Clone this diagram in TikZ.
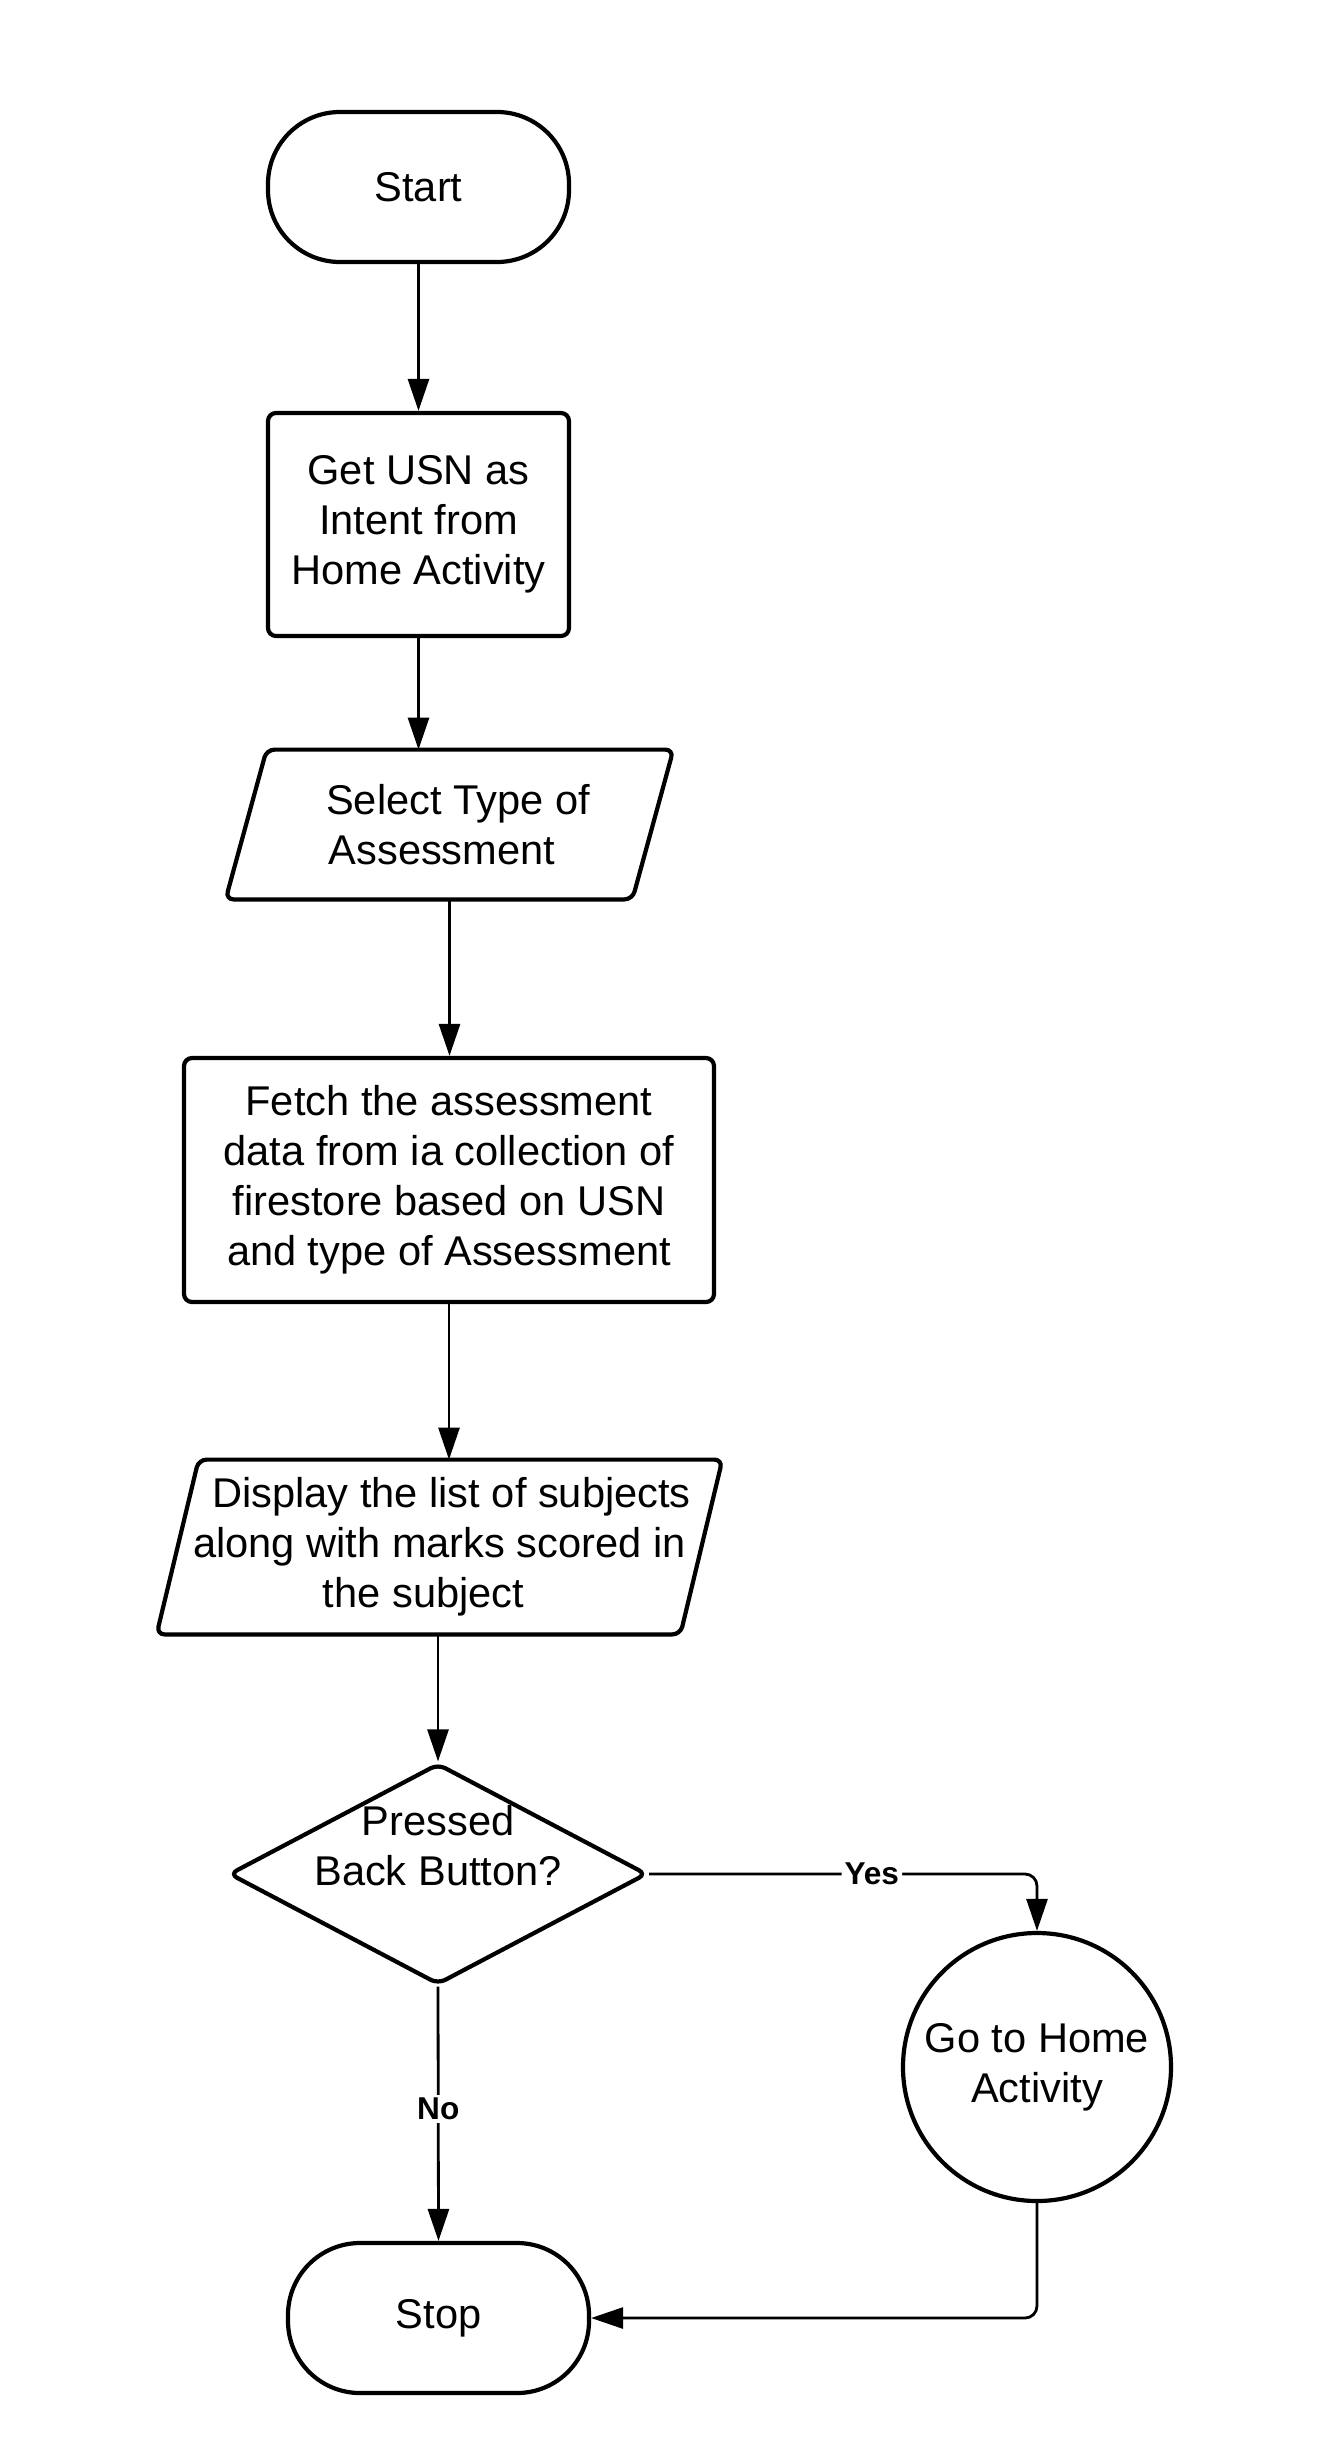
\documentclass[tikz,border=0pt]{standalone}
\usepackage{fontspec}
\setmainfont{Liberation Sans}
\usetikzlibrary{arrows.meta,shapes.geometric,calc}
\begin{document}
\begin{tikzpicture}[x=0.5pt,y=-0.5pt,
  txt/.style={align=center, font=\fontsize{20.8pt}{25pt}\selectfont, inner sep=0pt},
  base/.style={txt, draw, line width=2.1pt},
  term/.style={base, rectangle, rounded corners=36pt, minimum width=150.5pt, minimum height=75pt},
  proc/.style={base, rectangle, rounded corners=4pt},
  iobox/.style={txt, rectangle},
  shapeline/.style={line width=2.1pt, rounded corners=4pt},
  decision/.style={draw, line width=2.1pt, diamond, rounded corners=4pt, minimum width=209pt, minimum height=110.5pt, inner sep=0pt},
  endcircle/.style={base, circle, minimum size=134pt},
  conn/.style={line width=1.4pt, -{Triangle[length=16pt,width=10.5pt]}},
  lab/.style={font=\bfseries\fontsize{15.8pt}{18pt}\selectfont, fill=white, inner sep=1.5pt}
]
\useasboundingbox (0,0) rectangle (1328,2445);
\fill[white] (0,0) rectangle (1328,2445);

\node[term] (start) at (418.5,187) {Start};
\node[proc, minimum width=150.5pt, minimum height=111.5pt] (usn) at (418.5,524.5) {Get USN as\\Intent from\\Home Activity};
\node[iobox, minimum width=223.5pt, minimum height=74.5pt] (sel) at (449.5,824.5) {\hspace*{8.5pt}Select Type of\\Assessment\hspace*{7.5pt}};
\draw[shapeline] ([xshift=20.5pt]sel.north west) -- (sel.north east) -- ([xshift=-20.5pt]sel.south east) -- (sel.south west) -- cycle;
\node[proc, minimum width=265pt, minimum height=122pt] (fetch) at (449,1180) {Fetch the assessment\\data from ia collection of\\firestore based on USN\\and type of Assessment};
\node[iobox, minimum width=282.5pt, minimum height=87pt] (disp) at (439.5,1547) {\hspace*{12pt}Display the list of subjects\\along with marks scored in\\the subject\hspace*{16pt}};
\draw[shapeline] ([xshift=21pt]disp.north west) -- (disp.north east) -- ([xshift=-21pt]disp.south east) -- (disp.south west) -- cycle;
\node[decision] (dia) at (438,1874) {};
\node[txt] (dlab) at (438,1846) {Pressed\\Back Button?};
\node[endcircle] (goh) at (1037,2067) {Go to Home\\Activity};
\node[term] (stop) at (438.5,2318) {Stop};

\draw[conn] (start.south) -- (usn.north);
\draw[conn] (usn.south) -- (usn.south |- sel.north);
\draw[conn] (sel.south) -- (sel.south |- fetch.north);
\draw[conn] (fetch.south) -- (fetch.south |- disp.north);
\draw[conn] (dia.north |- disp.south) -- (dia.north);
\draw[conn, rounded corners=6pt] (dia.east) -- node[lab, pos=0.574]{Yes} (goh.north |- dia.east) -- (goh.north);
\draw[conn] (dia.south) -- node[lab, pos=0.48]{No} (stop.north);
\draw[conn, rounded corners=6pt] (goh.south) |- (stop.east);
\end{tikzpicture}
\end{document}
